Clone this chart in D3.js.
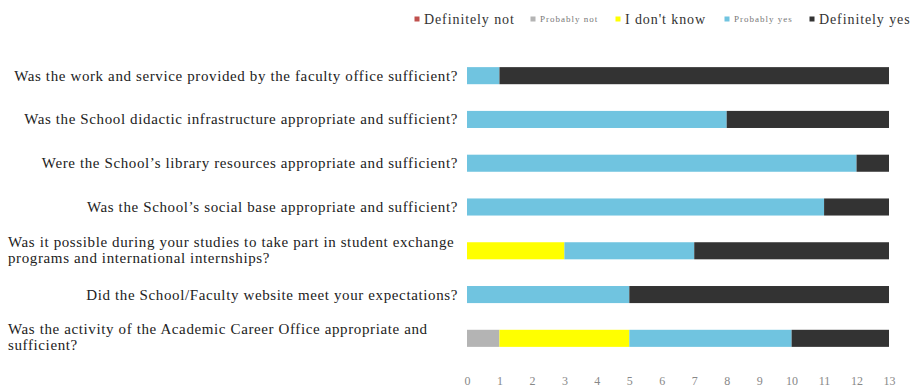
<!DOCTYPE html>
<html>
<head>
<meta charset="utf-8">
<script src="https://cdn.jsdelivr.net/npm/d3@7"></script>
<style>
    body { margin: 0; background: #fff; }
    svg { display: block; font-family: "Liberation Serif", "Times New Roman", serif; }
</style>
</head>
<body>
<div id="chart"></div>
<script>
const questions = [
    'Was the work and service provided by the faculty office sufficient?',
    'Was the School didactic infrastructure appropriate and sufficient?',
    'Were the School\u2019s library resources appropriate and sufficient?',
    'Was the School\u2019s social base appropriate and sufficient?',
    'Was it possible during your studies to take part in student exchange|programs and international internships?',
    'Did the School/Faculty website meet your expectations?',
    'Was the activity of the Academic Career Office appropriate and|sufficient?'
];
const seriesNames = ['Definitely not', 'Probably not', 'I don\'t know', 'Probably yes', 'Definitely yes'];
const definitelyNot = [0, 0, 0, 0, 0, 0, 0];
const probablyNot = [0, 0, 0, 0, 0, 0, 1];
const dontKnow = [0, 0, 0, 0, 3, 0, 4];
const probablyYes = [1, 8, 12, 11, 4, 5, 5];
const definitelyYes = [12, 5, 1, 2, 6, 8, 3];
const xTicks = d3.range(0, 14);

const colors = ['#c0504d', '#b4b4b4', '#ffff00', '#70c4e0', '#333333'];
const legendBig = [true, false, true, false, true];

const chartWidth = 910;
const chartHeight = 387;

const rows = questions.map((q, i) => ({
    q: q,
    v: [definitelyNot[i], probablyNot[i], dontKnow[i], probablyYes[i], definitelyYes[i]]
}));

const stack = d3.stack()
    .keys([0, 1, 2, 3, 4])
    .value((d, k) => d.v[k]);
const stacked = stack(rows);

const svg = d3.select('#chart')
    .append('svg')
    .attr('width', chartWidth)
    .attr('height', chartHeight);

const xScale = d3.scaleLinear()
    .domain([0, 13])
    .range([467, 889]);

const yScale = d3.scaleBand()
    .domain(questions)
    .range([54, 360])
    .paddingInner(0.61)
    .paddingOuter(0.3);

svg.append('g')
    .selectAll('g')
    .data(stacked)
    .enter()
    .append('g')
    .attr('fill', d => colors[d.key])
    .selectAll('rect')
    .data(d => d)
    .enter()
    .append('rect')
    .attr('x', d => xScale(d[0]))
    .attr('y', d => yScale(d.data.q))
    .attr('width', d => xScale(d[1]) - xScale(d[0]))
    .attr('height', yScale.bandwidth());

// category labels
const labels = svg.append('g')
    .selectAll('text')
    .data(questions)
    .enter()
    .append('text')
    .attr('font-size', 15)
    .attr('letter-spacing', 0.62)
    .attr('fill', '#222');

labels.each(function (q) {
    const parts = q.split('|');
    const cy = yScale(q) + yScale.bandwidth() / 2;
    const t = d3.select(this);
    if (parts.length === 1) {
        t.attr('x', 458).attr('y', cy + 5).attr('text-anchor', 'end').text(q);
    } else {
        parts.forEach((p, j) => {
            t.append('tspan')
                .attr('x', 8)
                .attr('y', cy - 4 + j * 16)
                .text(p);
        });
    }
});

const xAxis = d3.axisBottom(xScale)
    .tickValues(xTicks)
    .tickSize(0)
    .tickPadding(0);

svg.append('g')
    .attr('class', 'x-axis')
    .attr('transform', 'translate(0,376)')
    .call(xAxis)
    .call(g => g.select('.domain').remove())
    .selectAll('text')
    .attr('font-family', '"Liberation Serif", serif')
    .attr('font-size', 12)
    .attr('fill', '#888');

// legend
const legendX = [417, 533, 618, 727, 812];
const legend = svg.append('g')
    .selectAll('g')
    .data(seriesNames)
    .enter()
    .append('g')
    .attr('transform', (d, i) => 'translate(' + legendX[i] + ',19)');

legend.append('rect')
    .attr('x', -2.5)
    .attr('y', -2.5)
    .attr('width', 5)
    .attr('height', 5)
    .attr('fill', (d, i) => colors[i]);

legend.append('text')
    .attr('x', 7)
    .attr('y', (d, i) => legendBig[i] ? 5 : 3)
    .attr('font-size', (d, i) => legendBig[i] ? 14 : 9)
    .attr('letter-spacing', (d, i) => legendBig[i] ? 0.9 : 1)
    .attr('fill', (d, i) => legendBig[i] ? '#333' : '#777')
    .text(d => d);
</script>
</body>
</html>
